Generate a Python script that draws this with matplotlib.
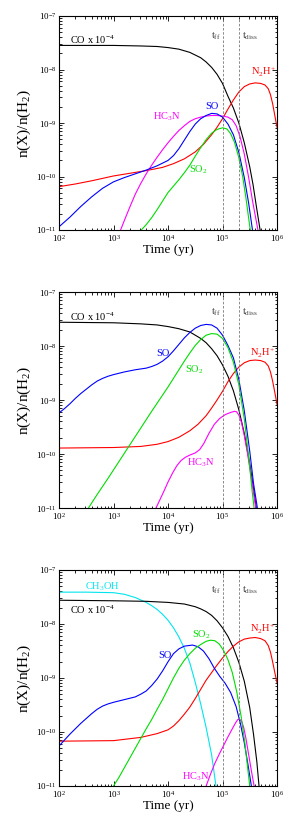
import numpy as np
import matplotlib
matplotlib.use("Agg")
import matplotlib.pyplot as plt
from matplotlib.ticker import FixedLocator, NullFormatter, LogFormatterSciNotation

plt.rcParams['font.family'] = ['Liberation Serif', 'DejaVu Serif']
plt.rcParams['mathtext.fontset'] = 'custom'
plt.rcParams['mathtext.rm'] = 'Liberation Serif'
plt.rcParams['mathtext.it'] = 'Liberation Serif:italic'
plt.rcParams['mathtext.bf'] = 'Liberation Serif:bold'

# ---------------- data (log10 time [yr], log10 abundance) ----------------
# Panel 1
p1_co_logt = [2.0, 3.0, 3.5, 3.8, 4.0, 4.2, 4.4, 4.6, 4.7, 4.8, 4.9, 5.0, 5.1, 5.2, 5.3, 5.4, 5.5, 5.56, 5.62, 5.69]
p1_co_logn = [-7.55, -7.55, -7.56, -7.57, -7.59, -7.62, -7.68, -7.78, -7.86, -7.96, -8.09, -8.26, -8.50, -8.72, -9.0, -9.37, -9.82, -10.15, -10.55, -11.0]
p1_n2h_logt = [2.0, 2.3, 2.6, 3.0, 3.3, 3.6, 3.9, 4.1, 4.3, 4.5, 4.65, 4.8, 4.9, 5.0, 5.1, 5.2, 5.3, 5.4, 5.5, 5.6, 5.7, 5.78, 5.84, 5.88, 5.92, 5.96, 6.0]
p1_n2h_logn = [-10.19, -10.14, -10.08, -9.99, -9.94, -9.89, -9.83, -9.76, -9.67, -9.54, -9.40, -9.22, -9.08, -8.92, -8.74, -8.57, -8.42, -8.32, -8.27, -8.25, -8.26, -8.29, -8.36, -8.47, -8.64, -8.86, -9.08]
p1_so_logt = [2.0, 2.2, 2.4, 2.6, 2.8, 3.0, 3.2, 3.4, 3.6, 3.8, 4.0, 4.1, 4.2, 4.3, 4.4, 4.5, 4.6, 4.7, 4.8, 4.9, 5.0, 5.1, 5.2, 5.3, 5.4, 5.48, 5.55]
p1_so_logn = [-10.94, -10.76, -10.56, -10.38, -10.22, -10.10, -10.02, -9.95, -9.88, -9.80, -9.70, -9.61, -9.48, -9.32, -9.16, -9.02, -8.92, -8.86, -8.82, -8.83, -8.89, -9.02, -9.22, -9.55, -10.02, -10.50, -11.0]
p1_so2_logt = [3.51, 3.6, 3.7, 3.8, 3.9, 4.0, 4.1, 4.2, 4.3, 4.4, 4.5, 4.6, 4.7, 4.8, 4.9, 5.0, 5.08, 5.15, 5.22, 5.3, 5.37, 5.43, 5.48, 5.51]
p1_so2_logn = [-11.0, -10.90, -10.77, -10.62, -10.46, -10.30, -10.18, -10.06, -9.93, -9.79, -9.62, -9.46, -9.31, -9.19, -9.12, -9.09, -9.11, -9.20, -9.36, -9.65, -10.0, -10.40, -10.78, -11.0]
p1_hc3n_logt = [3.13, 3.2, 3.3, 3.4, 3.5, 3.6, 3.7, 3.8, 3.9, 4.0, 4.1, 4.2, 4.3, 4.4, 4.5, 4.6, 4.7, 4.8, 4.9, 5.0, 5.1, 5.18, 5.25, 5.32, 5.4, 5.48, 5.55, 5.61, 5.65]
p1_hc3n_logn = [-11.0, -10.82, -10.57, -10.33, -10.13, -9.95, -9.79, -9.64, -9.50, -9.37, -9.25, -9.14, -9.05, -8.97, -8.92, -8.89, -8.87, -8.86, -8.86, -8.87, -8.89, -8.94, -9.05, -9.25, -9.58, -10.02, -10.45, -10.78, -11.0]

# Panel 2
p2_co_logt = [2.0, 3.0, 3.5, 3.8, 4.0, 4.2, 4.4, 4.6, 4.7, 4.8, 4.9, 5.0, 5.1, 5.2, 5.3, 5.4, 5.5, 5.57, 5.62]
p2_co_logn = [-7.56, -7.57, -7.59, -7.61, -7.64, -7.68, -7.74, -7.86, -7.94, -8.05, -8.18, -8.35, -8.56, -8.83, -9.18, -9.62, -10.18, -10.65, -11.0]
p2_so_logt = [2.0, 2.1, 2.2, 2.3, 2.4, 2.5, 2.6, 2.7, 2.8, 2.9, 3.0, 3.2, 3.4, 3.6, 3.7, 3.8, 3.9, 4.0, 4.1, 4.2, 4.3, 4.4, 4.5, 4.6, 4.7, 4.8, 4.9, 5.0, 5.1, 5.2, 5.3, 5.4, 5.5, 5.57, 5.64]
p2_so_logn = [-9.24, -9.16, -9.07, -8.97, -8.88, -8.80, -8.72, -8.65, -8.60, -8.56, -8.53, -8.48, -8.44, -8.41, -8.38, -8.34, -8.28, -8.20, -8.09, -7.97, -7.85, -7.75, -7.67, -7.62, -7.60, -7.61, -7.67, -7.80, -7.99, -8.22, -8.62, -9.20, -9.95, -10.55, -11.0]
p2_so2_logt = [2.54, 2.7, 2.9, 3.1, 3.3, 3.5, 3.7, 3.9, 4.0, 4.1, 4.2, 4.3, 4.4, 4.5, 4.6, 4.7, 4.8, 4.9, 5.0, 5.1, 5.2, 5.3, 5.4, 5.48, 5.54, 5.58]
p2_so2_logn = [-11.0, -10.75, -10.45, -10.14, -9.83, -9.52, -9.21, -8.91, -8.76, -8.60, -8.44, -8.28, -8.13, -7.99, -7.88, -7.80, -7.77, -7.78, -7.86, -8.03, -8.30, -8.72, -9.35, -10.05, -10.65, -11.0]
p2_n2h_logt = [2.0, 3.0, 3.5, 3.8, 4.0, 4.2, 4.4, 4.55, 4.7, 4.8, 4.9, 5.0, 5.1, 5.2, 5.3, 5.4, 5.5, 5.6, 5.7, 5.78, 5.84, 5.88, 5.92, 5.96, 6.0]
p2_n2h_logn = [-9.89, -9.88, -9.86, -9.82, -9.77, -9.69, -9.57, -9.45, -9.29, -9.15, -9.0, -8.84, -8.66, -8.51, -8.39, -8.31, -8.27, -8.26, -8.27, -8.30, -8.37, -8.48, -8.65, -8.86, -9.08]
p2_hc3n_logt = [3.78, 3.85, 3.92, 4.0, 4.08, 4.16, 4.24, 4.32, 4.4, 4.5, 4.58, 4.66, 4.75, 4.85, 4.95, 5.05, 5.15, 5.22, 5.26, 5.3, 5.35, 5.4, 5.46, 5.52, 5.57, 5.61]
p2_hc3n_logn = [-11.0, -10.85, -10.70, -10.52, -10.36, -10.22, -10.12, -10.06, -10.02, -9.98, -9.92, -9.80, -9.62, -9.45, -9.34, -9.27, -9.23, -9.21, -9.22, -9.28, -9.42, -9.66, -10.0, -10.38, -10.72, -11.0]

# Panel 3
p3_ch3oh_logt = [2.0, 2.5, 3.0, 3.2, 3.4, 3.6, 3.7, 3.8, 3.9, 4.0, 4.1, 4.2, 4.3, 4.4, 4.5, 4.6, 4.7, 4.8, 4.88]
p3_ch3oh_logn = [-7.41, -7.41, -7.42, -7.45, -7.51, -7.60, -7.66, -7.73, -7.82, -7.93, -8.07, -8.24, -8.45, -8.72, -9.08, -9.48, -9.92, -10.42, -11.0]
p3_co_logt = [2.0, 3.0, 3.6, 4.0, 4.3, 4.5, 4.6, 4.7, 4.8, 4.9, 5.0, 5.1, 5.2, 5.3, 5.4, 5.5, 5.57, 5.63, 5.67]
p3_co_logn = [-7.56, -7.57, -7.58, -7.60, -7.63, -7.68, -7.72, -7.77, -7.84, -7.94, -8.07, -8.23, -8.44, -8.71, -9.06, -9.55, -10.05, -10.55, -11.0]
p3_so_logt = [2.0, 2.1, 2.2, 2.3, 2.4, 2.5, 2.6, 2.7, 2.8, 2.9, 3.0, 3.2, 3.4, 3.5, 3.6, 3.7, 3.8, 3.9, 4.0, 4.1, 4.2, 4.3, 4.45, 4.55, 4.65, 4.75, 4.85, 4.95, 5.05, 5.15, 5.25, 5.33, 5.4, 5.47, 5.53]
p3_so_logn = [-10.26, -10.15, -10.04, -9.94, -9.84, -9.75, -9.66, -9.58, -9.52, -9.48, -9.45, -9.40, -9.35, -9.30, -9.24, -9.14, -9.02, -8.87, -8.70, -8.55, -8.46, -8.41, -8.39, -8.42, -8.50, -8.64, -8.82, -8.97, -9.10, -9.27, -9.53, -9.85, -10.20, -10.62, -11.0]
p3_so2_logt = [3.0, 3.1, 3.2, 3.3, 3.4, 3.5, 3.6, 3.7, 3.8, 3.9, 4.0, 4.1, 4.2, 4.3, 4.4, 4.5, 4.6, 4.7, 4.78, 4.86, 4.94, 5.02, 5.1, 5.18, 5.26, 5.34, 5.41, 5.46, 5.50]
p3_so2_logn = [-11.0, -10.84, -10.66, -10.48, -10.30, -10.12, -9.94, -9.77, -9.58, -9.40, -9.20, -9.00, -8.82, -8.67, -8.55, -8.45, -8.38, -8.32, -8.30, -8.31, -8.37, -8.49, -8.66, -8.90, -9.25, -9.70, -10.20, -10.65, -11.0]
p3_n2h_logt = [2.0, 3.0, 3.5, 3.8, 4.0, 4.1, 4.2, 4.3, 4.4, 4.5, 4.6, 4.7, 4.8, 4.9, 5.0, 5.1, 5.2, 5.3, 5.4, 5.5, 5.6, 5.7, 5.78, 5.84, 5.88, 5.92, 5.96, 6.0]
p3_n2h_logn = [-10.17, -10.16, -10.10, -10.03, -9.96, -9.89, -9.79, -9.67, -9.54, -9.38, -9.21, -9.04, -8.90, -8.76, -8.63, -8.51, -8.41, -8.33, -8.28, -8.26, -8.25, -8.27, -8.31, -8.40, -8.52, -8.70, -8.90, -9.09]
p3_hc3n_logt = [4.70, 4.78, 4.86, 4.94, 5.02, 5.1, 5.18, 5.24, 5.28, 5.31, 5.35, 5.39, 5.43, 5.48, 5.53, 5.58]
p3_hc3n_logn = [-11.0, -10.78, -10.58, -10.41, -10.25, -10.09, -9.94, -9.83, -9.77, -9.76, -9.80, -9.92, -10.12, -10.42, -10.72, -11.0]

t_ff = 1e5
t_diss = 2e5
x_ticks = [1e2, 1e3, 1e4, 1e5, 1e6]
y_ticks = [1e-11, 1e-10, 1e-9, 1e-8, 1e-7]

C_CO = 'black'
C_SO = '#0000ff'
C_SO2 = '#00dd00'
C_N2H = '#ff0000'
C_HC3N = '#ff00ff'
C_CH3OH = '#00e5ee'

panels = [
    dict(curves=[(p1_co_logt, p1_co_logn, C_CO), (p1_n2h_logt, p1_n2h_logn, C_N2H),
                 (p1_hc3n_logt, p1_hc3n_logn, C_HC3N), (p1_so_logt, p1_so_logn, C_SO),
                 (p1_so2_logt, p1_so2_logn, C_SO2)],
         labels=[(2.2, -7.45, r'CO x 10$^{-4}$', C_CO, 'left'),
                 (5.75, -8.05, r'N$_2$H$^{+}$', C_N2H, 'center'),
                 (4.8, -8.7, 'SO', C_SO, 'center'),
                 (3.98, -8.89, r'HC$_3$N', C_HC3N, 'center'),
                 (4.56, -9.88, r'SO$_2$', C_SO2, 'center')]),
    dict(curves=[(p2_co_logt, p2_co_logn, C_CO), (p2_n2h_logt, p2_n2h_logn, C_N2H),
                 (p2_hc3n_logt, p2_hc3n_logn, C_HC3N), (p2_so_logt, p2_so_logn, C_SO),
                 (p2_so2_logt, p2_so2_logn, C_SO2)],
         labels=[(2.2, -7.45, r'CO x 10$^{-4}$', C_CO, 'left'),
                 (5.74, -8.13, r'N$_2$H$^{+}$', C_N2H, 'center'),
                 (3.91, -8.13, 'SO', C_SO, 'center'),
                 (4.49, -8.44, r'SO$_2$', C_SO2, 'center'),
                 (4.61, -10.17, r'HC$_3$N', C_HC3N, 'center')]),
    dict(curves=[(p3_ch3oh_logt, p3_ch3oh_logn, C_CH3OH), (p3_co_logt, p3_co_logn, C_CO),
                 (p3_n2h_logt, p3_n2h_logn, C_N2H), (p3_hc3n_logt, p3_hc3n_logn, C_HC3N),
                 (p3_so_logt, p3_so_logn, C_SO), (p3_so2_logt, p3_so2_logn, C_SO2)],
         labels=[(2.79, -7.31, r'CH$_3$OH', C_CH3OH, 'center'),
                 (2.2, -7.74, r'CO x 10$^{-4}$', C_CO, 'left'),
                 (5.73, -8.1, r'N$_2$H$^{+}$', C_N2H, 'center'),
                 (4.62, -8.2, r'SO$_2$', C_SO2, 'center'),
                 (3.94, -8.59, 'SO', C_SO, 'center'),
                 (4.51, -10.83, r'HC$_3$N', C_HC3N, 'center')]),
]

W, H = 305, 817
fig = plt.figure(figsize=(W / 100, H / 100), dpi=100)
left_px, right_px = 59, 277
tops = [(16, 230), (292, 508), (570, 786)]

for (top, bot), pan in zip(tops, panels):
    ax = fig.add_axes([left_px / W, 1 - bot / H, (right_px - left_px) / W, (bot - top) / H])
    ax.set_xscale('log')
    ax.set_yscale('log')
    for lt, ln, c in pan['curves']:
        ax.plot(10 ** np.array(lt), 10 ** np.array(ln), color=c, lw=0.8)
    ax.axvline(t_ff, color='#777777', lw=0.6, ls=(0, (3, 2)))
    ax.axvline(t_diss, color='#777777', lw=0.6, ls=(0, (3, 2)))
    ax.text(10 ** 4.97, 10 ** -7.37, r't$_{\rm ff}$', color='#444444', fontsize=7.5,
            ha='right', va='center')
    ax.text(10 ** 5.36, 10 ** -7.37, r't$_{\rm diss}$', color='#444444', fontsize=7.5,
            ha='left', va='center')
    for lx, ly, s, c, ha in pan['labels']:
        ax.text(10 ** lx, 10 ** ly, s, color=c, fontsize=7.5, ha=ha, va='center')

    ax.set_xlim(1e2, 1e6)
    ax.set_ylim(1e-11, 1e-7)
    minor_x = [m * 10 ** e for e in range(2, 6) for m in range(2, 10)]
    minor_y = [m * 10 ** e for e in range(-11, -7) for m in range(2, 10)]
    ax.xaxis.set_major_locator(FixedLocator(x_ticks))
    ax.yaxis.set_major_locator(FixedLocator(y_ticks))
    ax.xaxis.set_minor_locator(FixedLocator(minor_x))
    ax.yaxis.set_minor_locator(FixedLocator(minor_y))
    ax.xaxis.set_major_formatter(LogFormatterSciNotation())
    ax.yaxis.set_major_formatter(LogFormatterSciNotation())
    ax.xaxis.set_minor_formatter(NullFormatter())
    ax.yaxis.set_minor_formatter(NullFormatter())
    ax.tick_params(which='both', direction='in', top=True, right=True, width=0.6,
                   labelsize=6.5, pad=2)
    ax.tick_params(which='major', length=3.5)
    ax.tick_params(which='minor', length=1.8)
    for sp in ax.spines.values():
        sp.set_linewidth(0.8)
    ax.set_xlabel('Time (yr)', fontsize=9.5, labelpad=0)
    ax.set_ylabel(r'n(X)/n(H$_2$)', fontsize=11, labelpad=2)

fig.savefig('out.png', dpi=100)
